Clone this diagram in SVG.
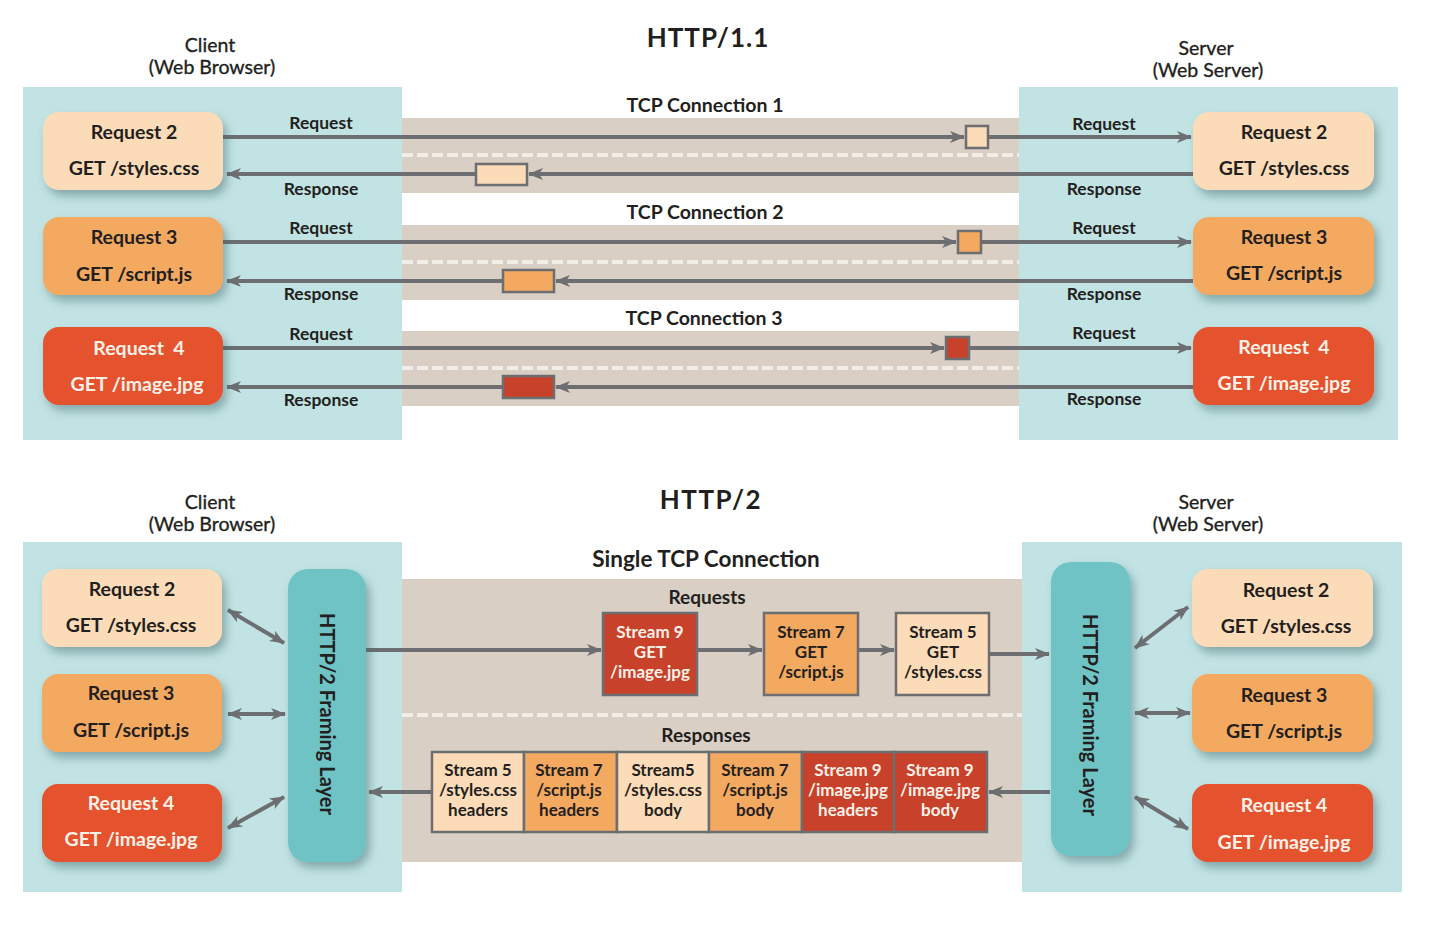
<svg xmlns="http://www.w3.org/2000/svg" width="1436" height="938" viewBox="0 0 1436 938">
<defs>
<style>
.t{font-family:Lato,"Liberation Sans",sans-serif;fill:#231f20;text-anchor:middle}
.b{font-weight:700}
.m{stroke:#231f20;stroke-width:0.35}
.w{fill:#fdf1e8}
.panel{fill:#c2e3e4}
.band{fill:#d9cfc4}
.ln{stroke:#6d6e71;stroke-width:4;fill:none}
.dash{stroke:#f1eeea;stroke-width:4;stroke-dasharray:11 4;fill:none}
.pk{stroke:#6d6e71;stroke-width:2.5}
.sb{stroke:#6d6e71;stroke-width:2.5}
.c1{fill:#fcdcb8}.c2{fill:#f3a95f}.c3{fill:#e5532e}.c4{fill:#c8412a}
.fr{fill:#6fc3c5}
</style>
<filter id="sh" x="-20%" y="-20%" width="150%" height="160%">
<feDropShadow dx="4" dy="6" stdDeviation="5" flood-color="#3d6266" flood-opacity="0.45"/>
</filter>
<marker id="ah" markerUnits="userSpaceOnUse" markerWidth="16" markerHeight="14" refX="14" refY="7" orient="auto-start-reverse">
<path d="M0,1 L15,7 L0,13 L4,7 z" fill="#6d6e71"/>
</marker>
</defs>
<rect width="1436" height="938" fill="#fff"/>

<!-- HTTP/1.1 -->
<g id="top-background">
<rect class="panel" x="23" y="87" width="379" height="353"/>
<rect class="panel" x="1019" y="87" width="379" height="353"/>
<rect class="band" x="402" y="118" width="617" height="75"/>
<rect class="band" x="402" y="225" width="617" height="75"/>
<rect class="band" x="402" y="331" width="617" height="75"/>
<line class="dash" x1="402" y1="155" x2="1019" y2="155"/>
<line class="dash" x1="402" y1="262" x2="1019" y2="262"/>
<line class="dash" x1="402" y1="368" x2="1019" y2="368"/>
</g>
<g id="top-titles">
<text class="t b" x="708" y="47" font-size="26" letter-spacing="1">HTTP/1.1</text>
<text class="t m" x="210" y="52" font-size="19.5">Client</text>
<text class="t m" x="212" y="74" font-size="19.5">(Web Browser)</text>
<text class="t m" x="1206" y="55" font-size="19.5">Server</text>
<text class="t m" x="1208" y="77" font-size="19.5">(Web Server)</text>
<text class="t b" x="705" y="112" font-size="19.5">TCP Connection 1</text>
<text class="t b" x="705" y="219" font-size="19.5">TCP Connection 2</text>
<text class="t b" x="704" y="325" font-size="19.5">TCP Connection 3</text>
</g>

<g id="top-connectors">
<line class="ln" x1="223" y1="137" x2="964" y2="137" marker-end="url(#ah)"/>
<line class="ln" x1="988" y1="137" x2="1191" y2="137" marker-end="url(#ah)"/>
<line class="ln" x1="1193" y1="174" x2="529" y2="174" marker-end="url(#ah)"/>
<line class="ln" x1="476" y1="174" x2="227" y2="174" marker-end="url(#ah)"/>
<line class="ln" x1="222" y1="242" x2="956" y2="242" marker-end="url(#ah)"/>
<line class="ln" x1="981" y1="242" x2="1191" y2="242" marker-end="url(#ah)"/>
<line class="ln" x1="1193" y1="281" x2="556" y2="281" marker-end="url(#ah)"/>
<line class="ln" x1="503" y1="281" x2="227" y2="281" marker-end="url(#ah)"/>
<line class="ln" x1="223" y1="348" x2="944" y2="348" marker-end="url(#ah)"/>
<line class="ln" x1="969" y1="348" x2="1191" y2="348" marker-end="url(#ah)"/>
<line class="ln" x1="1193" y1="387" x2="556" y2="387" marker-end="url(#ah)"/>
<line class="ln" x1="503" y1="387" x2="227" y2="387" marker-end="url(#ah)"/>
<text class="t b" x="321" y="129" font-size="17.5">Request</text>
<text class="t b" x="321" y="195" font-size="17.5">Response</text>
<text class="t b" x="321" y="234" font-size="17.5">Request</text>
<text class="t b" x="321" y="300" font-size="17.5">Response</text>
<text class="t b" x="321" y="340" font-size="17.5">Request</text>
<text class="t b" x="321" y="406" font-size="17.5">Response</text>
<text class="t b" x="1104" y="130" font-size="17.5">Request</text>
<text class="t b" x="1104" y="195" font-size="17.5">Response</text>
<text class="t b" x="1104" y="234" font-size="17.5">Request</text>
<text class="t b" x="1104" y="300" font-size="17.5">Response</text>
<text class="t b" x="1104" y="339" font-size="17.5">Request</text>
<text class="t b" x="1104" y="405" font-size="17.5">Response</text>
</g>

<g id="pkt-req2"><rect class="pk c1" x="966" y="126" width="22" height="22"/></g>
<g id="pkt-resp2"><rect class="pk c1" x="476" y="164" width="51" height="21"/></g>
<g id="pkt-req3"><rect class="pk c2" x="958" y="231" width="23" height="22"/></g>
<g id="pkt-resp3"><rect class="pk c2" x="503" y="270" width="51" height="22"/></g>
<g id="pkt-req4"><rect class="pk c4" x="946" y="337" width="23" height="22"/></g>
<g id="pkt-resp4"><rect class="pk c4" x="503" y="376" width="51" height="22"/></g>

<g id="c-req2"><rect class="c1" x="43" y="112" width="180" height="78" rx="16" filter="url(#sh)"/>
<text class="t b" x="134" y="139" font-size="19.5">Request 2</text><text class="t b" x="134" y="175" font-size="19.5">GET /styles.css</text></g>
<g id="c-req3"><rect class="c2" x="43" y="217" width="180" height="78" rx="16" filter="url(#sh)"/>
<text class="t b" x="134" y="244" font-size="19.5">Request 3</text><text class="t b" x="134" y="281" font-size="19.5">GET /script.js</text></g>
<g id="c-req4"><rect class="c3" x="43" y="327" width="180" height="78" rx="16" filter="url(#sh)"/>
<text class="t b w" x="139" y="355" font-size="19.5" xml:space="preserve">Request  4</text><text class="t b w" x="137" y="391" font-size="19.5">GET /image.jpg</text></g>
<g id="s-req2"><rect class="c1" x="1193" y="112" width="181" height="78" rx="16" filter="url(#sh)"/>
<text class="t b" x="1284" y="139" font-size="19.5">Request 2</text><text class="t b" x="1284" y="175" font-size="19.5">GET /styles.css</text></g>
<g id="s-req3"><rect class="c2" x="1193" y="217" width="181" height="78" rx="16" filter="url(#sh)"/>
<text class="t b" x="1284" y="244" font-size="19.5">Request 3</text><text class="t b" x="1284" y="280" font-size="19.5">GET /script.js</text></g>
<g id="s-req4"><rect class="c3" x="1193" y="327" width="181" height="78" rx="16" filter="url(#sh)"/>
<text class="t b w" x="1284" y="354" font-size="19.5" xml:space="preserve">Request  4</text><text class="t b w" x="1284" y="390" font-size="19.5">GET /image.jpg</text></g>

<!-- HTTP/2 -->
<g id="bottom-background">
<rect class="panel" x="23" y="542" width="379" height="350"/>
<rect class="panel" x="1022" y="542" width="380" height="350"/>
<rect class="band" x="402" y="579" width="620" height="283"/>
<line class="dash" x1="402" y1="715" x2="1022" y2="715"/>
</g>
<g id="bottom-titles">
<text class="t b" x="711" y="509" font-size="26" letter-spacing="1.5">HTTP/2</text>
<text class="t m" x="210" y="509" font-size="19.5">Client</text>
<text class="t m" x="212" y="531" font-size="19.5">(Web Browser)</text>
<text class="t m" x="1206" y="509" font-size="19.5">Server</text>
<text class="t m" x="1208" y="531" font-size="19.5">(Web Server)</text>
<text class="t b" x="706" y="567" font-size="22.5">Single TCP Connection</text>
<text class="t b" x="707" y="604" font-size="19">Requests</text>
<text class="t b" x="706" y="742" font-size="19">Responses</text>
</g>

<g id="bottom-connectors">
<line class="ln" x1="228" y1="610" x2="284" y2="643" marker-start="url(#ah)" marker-end="url(#ah)"/>
<line class="ln" x1="228" y1="714" x2="285" y2="714" marker-start="url(#ah)" marker-end="url(#ah)"/>
<line class="ln" x1="228" y1="828" x2="284" y2="797" marker-start="url(#ah)" marker-end="url(#ah)"/>
<line class="ln" x1="1135" y1="648" x2="1188" y2="607" marker-start="url(#ah)" marker-end="url(#ah)"/>
<line class="ln" x1="1135" y1="713" x2="1190" y2="713" marker-start="url(#ah)" marker-end="url(#ah)"/>
<line class="ln" x1="1135" y1="797" x2="1188" y2="829" marker-start="url(#ah)" marker-end="url(#ah)"/>
<line class="ln" x1="366" y1="650" x2="601" y2="650" marker-end="url(#ah)"/>
<line class="ln" x1="697" y1="650" x2="762" y2="650" marker-end="url(#ah)"/>
<line class="ln" x1="858" y1="650" x2="894" y2="650" marker-end="url(#ah)"/>
<line class="ln" x1="989" y1="654" x2="1049" y2="654" marker-end="url(#ah)"/>
<line class="ln" x1="1050" y1="792" x2="989" y2="792" marker-end="url(#ah)"/>
<line class="ln" x1="431" y1="792" x2="369" y2="792" marker-end="url(#ah)"/>
</g>

<g id="c2-req2"><rect class="c1" x="42" y="569" width="180" height="78" rx="16" filter="url(#sh)"/>
<text class="t b" x="132" y="596" font-size="19.5">Request 2</text><text class="t b" x="131" y="632" font-size="19.5">GET /styles.css</text></g>
<g id="c2-req3"><rect class="c2" x="42" y="674" width="180" height="78" rx="16" filter="url(#sh)"/>
<text class="t b" x="131" y="700" font-size="19.5">Request 3</text><text class="t b" x="131" y="737" font-size="19.5">GET /script.js</text></g>
<g id="c2-req4"><rect class="c3" x="42" y="784" width="180" height="78" rx="16" filter="url(#sh)"/>
<text class="t b w" x="131" y="810" font-size="19.5">Request 4</text><text class="t b w" x="131" y="846" font-size="19.5">GET /image.jpg</text></g>
<g id="c2-framing"><rect class="fr" x="288" y="569" width="78" height="293" rx="20" filter="url(#sh)"/>
<text class="t b" transform="translate(327,714) rotate(90)" y="7" font-size="20">HTTP/2 Framing Layer</text></g>

<g id="s2-framing"><rect class="fr" x="1051" y="562" width="79" height="294" rx="20" filter="url(#sh)"/>
<text class="t b" transform="translate(1090,715) rotate(90)" y="7" font-size="20">HTTP/2 Framing Layer</text></g>
<g id="s2-req2"><rect class="c1" x="1192" y="569" width="181" height="78" rx="16" filter="url(#sh)"/>
<text class="t b" x="1286" y="597" font-size="19.5">Request 2</text><text class="t b" x="1286" y="633" font-size="19.5">GET /styles.css</text></g>
<g id="s2-req3"><rect class="c2" x="1192" y="674" width="181" height="78" rx="16" filter="url(#sh)"/>
<text class="t b" x="1284" y="702" font-size="19.5">Request 3</text><text class="t b" x="1284" y="738" font-size="19.5">GET /script.js</text></g>
<g id="s2-req4"><rect class="c3" x="1192" y="784" width="181" height="78" rx="16" filter="url(#sh)"/>
<text class="t b w" x="1284" y="812" font-size="19.5">Request 4</text><text class="t b w" x="1284" y="849" font-size="19.5">GET /image.jpg</text></g>

<g id="req-stream9"><rect class="sb c4" x="603" y="613" width="94" height="82"/>
<text class="t b w" x="650" y="638" font-size="17">Stream 9</text><text class="t b w" x="650" y="658" font-size="17">GET</text><text class="t b w" x="650" y="678" font-size="17">/image.jpg</text></g>
<g id="req-stream7"><rect class="sb c2" x="764" y="613" width="94" height="82"/>
<text class="t b" x="811" y="638" font-size="17">Stream 7</text><text class="t b" x="811" y="658" font-size="17">GET</text><text class="t b" x="811" y="678" font-size="17">/script.js</text></g>
<g id="req-stream5"><rect class="sb c1" x="896" y="613" width="93" height="82"/>
<text class="t b" x="943" y="638" font-size="17">Stream 5</text><text class="t b" x="943" y="658" font-size="17">GET</text><text class="t b" x="943" y="678" font-size="17">/styles.css</text></g>

<g id="resp-s5-headers"><rect class="sb c1" x="432" y="752" width="92" height="80"/>
<text class="t b" x="478" y="776" font-size="17">Stream 5</text><text class="t b" x="478" y="796" font-size="17">/styles.css</text><text class="t b" x="478" y="816" font-size="17">headers</text></g>
<g id="resp-s7-headers"><rect class="sb c2" x="524" y="752" width="93" height="80"/>
<text class="t b" x="569" y="776" font-size="17">Stream 7</text><text class="t b" x="569" y="796" font-size="17">/script.js</text><text class="t b" x="569" y="816" font-size="17">headers</text></g>
<g id="resp-s5-body"><rect class="sb c1" x="617" y="752" width="92" height="80"/>
<text class="t b" x="663" y="776" font-size="17">Stream5</text><text class="t b" x="663" y="796" font-size="17">/styles.css</text><text class="t b" x="663" y="816" font-size="17">body</text></g>
<g id="resp-s7-body"><rect class="sb c2" x="709" y="752" width="93" height="80"/>
<text class="t b" x="755" y="776" font-size="17">Stream 7</text><text class="t b" x="755" y="796" font-size="17">/script.js</text><text class="t b" x="755" y="816" font-size="17">body</text></g>
<g id="resp-s9-headers"><rect class="sb c4" x="802" y="752" width="92" height="80"/>
<text class="t b w" x="848" y="776" font-size="17">Stream 9</text><text class="t b w" x="848" y="796" font-size="17">/image.jpg</text><text class="t b w" x="848" y="816" font-size="17">headers</text></g>
<g id="resp-s9-body"><rect class="sb c4" x="894" y="752" width="93" height="80"/>
<text class="t b w" x="940" y="776" font-size="17">Stream 9</text><text class="t b w" x="940" y="796" font-size="17">/image.jpg</text><text class="t b w" x="940" y="816" font-size="17">body</text></g>
</svg>
